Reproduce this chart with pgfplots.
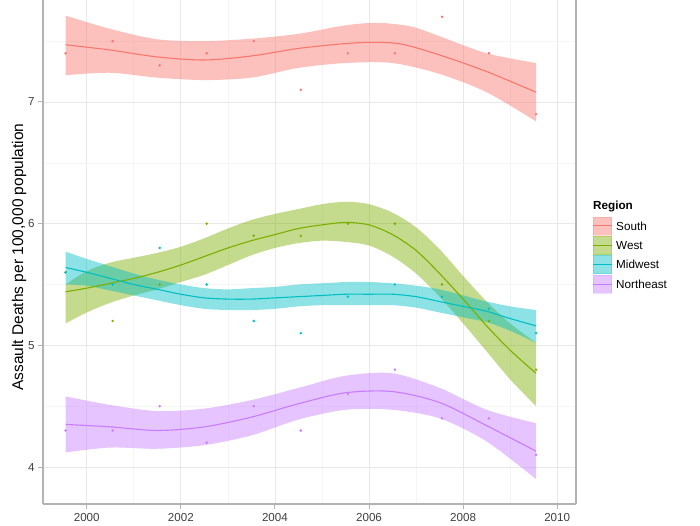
\documentclass[border=0pt]{standalone}
\usepackage{pgfplots}
\pgfplotsset{compat=1.18}
\usepgfplotslibrary{fillbetween}
\usepackage{fontspec}
\setmainfont{Liberation Sans}
\definecolor{cS}{HTML}{F8766D}
\definecolor{cW}{HTML}{7CAE00}
\definecolor{cM}{HTML}{00BFC4}
\definecolor{cN}{HTML}{C77CFF}
\definecolor{tickgrey}{HTML}{3F3F3F}
\definecolor{axgrey}{HTML}{B3B3B3}
\begin{document}
\begin{tikzpicture}
\begin{axis}[
  at={(43pt,21pt)}, anchor=south west, scale only axis,
  width=533pt, height=504pt,
  xmin=1999.07, xmax=2010.4, ymin=3.696, ymax=7.838,
  axis x line*=bottom, axis y line*=box, ytick pos=left,
  axis line style={color=axgrey, line width=1.4pt},
  xtick={2000,2002,...,2010}, ytick={4,5,6,7},
  minor xtick={2001,2003,...,2009}, minor ytick={4.5,5.5,6.5,7.5},
  grid=both,
  major grid style={color=black!9, line width=0.8pt},
  minor grid style={color=black!4, line width=0.6pt},
  tick align=outside, major tick length=5pt, minor tick length=0pt,
  tick style={color=axgrey, line width=1pt},
  /pgf/number format/assume math mode=true,
  /pgf/number format/1000 sep={},
  ticklabel style={font=\fontsize{11.6}{13}\selectfont, color=tickgrey},
  xticklabel style={yshift=-1pt},
  ylabel={Assault Deaths per 100,000 population},
  every axis y label/.style={at={(axis description cs:-0.045,0.490)}, rotate=90, anchor=center, font=\fontsize{15.5}{17}\selectfont},
]
% ---------- South ----------
\addplot[only marks, mark=*, mark size=1.05pt, color=cS] coordinates {
(1999.55,7.4)(2000.55,7.5)(2001.55,7.3)(2002.55,7.4)(2003.55,7.5)(2004.55,7.1)(2005.55,7.4)(2006.55,7.4)(2007.55,7.7)(2008.55,7.4)(2009.55,6.9)};
\addplot[name path=SU, draw=none, smooth, forget plot] coordinates {
(1999.55,7.71)(2000.5,7.60)(2001.5,7.515)(2002.5,7.50)(2003.5,7.52)(2004.5,7.56)(2005.5,7.63)(2006.2,7.65)(2006.9,7.62)(2007.5,7.54)(2008.5,7.40)(2009.55,7.32)};
\addplot[name path=SL, draw=none, smooth, forget plot] coordinates {
(1999.55,7.22)(2000.5,7.24)(2001.5,7.20)(2002.5,7.18)(2003.5,7.20)(2004.5,7.28)(2005.5,7.32)(2006.5,7.32)(2007.5,7.23)(2008.5,7.08)(2009.55,6.84)};
\addplot[fill=cS, fill opacity=0.45, draw=none, forget plot] fill between[of=SU and SL];
\addplot[color=cS, line width=1.1pt, smooth] coordinates {
(1999.55,7.47)(2000.5,7.427)(2001.5,7.37)(2002.5,7.345)(2003.5,7.378)(2004.5,7.44)(2005.5,7.48)(2006.1,7.49)(2006.7,7.475)(2007.5,7.386)(2008.5,7.25)(2009.55,7.08)};
% ---------- West ----------
\addplot[only marks, mark=*, mark size=1.05pt, color=cW] coordinates {
(1999.55,5.6)(2000.55,5.2)(2001.55,5.5)(2002.55,6.0)(2003.55,5.9)(2004.55,5.9)(2005.55,6.0)(2006.55,6.0)(2007.55,5.5)(2008.55,5.2)(2009.55,4.8)};
\addplot[name path=WU, draw=none, smooth, forget plot] coordinates {
(1999.55,5.50)(2000,5.61)(2000.5,5.68)(2001,5.72)(2001.5,5.76)(2002,5.81)(2002.5,5.88)(2003,5.96)(2003.5,6.03)(2004,6.08)(2004.5,6.12)(2005,6.16)(2005.5,6.18)(2006,6.16)(2006.5,6.09)(2007,5.97)(2007.5,5.79)(2008,5.57)(2008.5,5.36)(2009,5.18)(2009.55,5.02)};
\addplot[name path=WL, draw=none, smooth, forget plot] coordinates {
(1999.55,5.18)(2000,5.27)(2000.5,5.35)(2001,5.41)(2001.5,5.46)(2002,5.52)(2002.5,5.58)(2003,5.66)(2003.5,5.74)(2004,5.80)(2004.5,5.84)(2005,5.86)(2005.5,5.85)(2006,5.82)(2006.5,5.73)(2007,5.59)(2007.5,5.40)(2008,5.18)(2008.5,4.95)(2009,4.72)(2009.55,4.50)};
\addplot[fill=cW, fill opacity=0.45, draw=none, forget plot] fill between[of=WU and WL];
\addplot[color=cW, line width=1.1pt, smooth] coordinates {
(1999.55,5.44)(2000,5.47)(2000.5,5.51)(2001,5.55)(2001.5,5.60)(2002,5.66)(2002.5,5.73)(2003,5.80)(2003.5,5.86)(2004,5.91)(2004.5,5.96)(2005,5.99)(2005.5,6.01)(2006,5.99)(2006.5,5.91)(2007,5.78)(2007.5,5.59)(2008,5.38)(2008.5,5.16)(2009,4.96)(2009.55,4.77)};
% ---------- Midwest ----------
\addplot[only marks, mark=*, mark size=1.05pt, color=cM] coordinates {
(1999.55,5.6)(2000.55,5.5)(2001.55,5.8)(2002.55,5.5)(2003.55,5.2)(2004.55,5.1)(2005.55,5.4)(2006.55,5.5)(2007.55,5.4)(2008.55,5.3)(2009.55,5.1)};
\addplot[name path=MU, draw=none, smooth, forget plot] coordinates {
(1999.55,5.77)(2000,5.71)(2000.5,5.65)(2001,5.59)(2001.5,5.54)(2002,5.50)(2002.5,5.47)(2003,5.46)(2003.5,5.47)(2004,5.48)(2004.5,5.50)(2005,5.51)(2005.5,5.52)(2006,5.52)(2006.5,5.51)(2007,5.49)(2007.5,5.46)(2008,5.41)(2008.5,5.36)(2009,5.32)(2009.55,5.29)};
\addplot[name path=ML, draw=none, smooth, forget plot] coordinates {
(1999.55,5.50)(2000,5.49)(2000.5,5.45)(2001,5.41)(2001.5,5.37)(2002,5.33)(2002.5,5.30)(2003,5.29)(2003.5,5.29)(2004,5.30)(2004.5,5.32)(2005,5.33)(2005.5,5.33)(2006,5.33)(2006.5,5.33)(2007,5.31)(2007.5,5.27)(2008,5.23)(2008.5,5.19)(2009,5.12)(2009.55,5.02)};
\addplot[fill=cM, fill opacity=0.45, draw=none, forget plot] fill between[of=MU and ML];
\addplot[color=cM, line width=1.1pt, smooth] coordinates {
(1999.55,5.64)(2000,5.60)(2000.5,5.55)(2001,5.50)(2001.5,5.46)(2002,5.42)(2002.5,5.39)(2003,5.38)(2003.5,5.38)(2004,5.39)(2004.5,5.40)(2005,5.41)(2005.5,5.42)(2006,5.42)(2006.5,5.42)(2007,5.40)(2007.5,5.36)(2008,5.32)(2008.5,5.28)(2009,5.22)(2009.55,5.16)};
% ---------- Northeast ----------
\addplot[only marks, mark=*, mark size=1.05pt, color=cN] coordinates {
(1999.55,4.3)(2000.55,4.3)(2001.55,4.5)(2002.55,4.2)(2003.55,4.5)(2004.55,4.3)(2005.55,4.6)(2006.55,4.8)(2007.55,4.4)(2008.55,4.4)(2009.55,4.1)};
\addplot[name path=NU, draw=none, smooth, forget plot] coordinates {
(1999.55,4.58)(2000.5,4.51)(2001.5,4.46)(2002.5,4.48)(2003.5,4.55)(2004.5,4.65)(2005.5,4.75)(2006.5,4.77)(2007.5,4.65)(2008.5,4.47)(2009.55,4.36)};
\addplot[name path=NL, draw=none, smooth, forget plot] coordinates {
(1999.55,4.12)(2000.5,4.16)(2001.5,4.15)(2002.5,4.18)(2003.5,4.26)(2004.5,4.39)(2005.5,4.47)(2006.5,4.47)(2007.5,4.40)(2008.5,4.21)(2009.55,3.90)};
\addplot[fill=cN, fill opacity=0.45, draw=none, forget plot] fill between[of=NU and NL];
\addplot[color=cN, line width=1.1pt, smooth] coordinates {
(1999.55,4.35)(2000.5,4.33)(2001.5,4.30)(2002.5,4.33)(2003.5,4.41)(2004.5,4.52)(2005.5,4.61)(2006.5,4.62)(2007.5,4.53)(2008.5,4.34)(2009.55,4.13)};
\end{axis}
% ---------- Legend ----------
\node[anchor=west, inner sep=0pt, font=\fontsize{11.7}{13}\selectfont\bfseries] at (593pt,318pt) {Region};
\foreach \c/\t/\y in {cS/South/299, cW/West/279.7, cM/Midwest/260.3, cN/Northeast/241}{
  \fill[\c, fill opacity=0.45] (593pt,\y pt-9.3pt) rectangle (612pt,\y pt+9.3pt);
  \draw[\c, draw opacity=0.25, line width=0.6pt] (593.3pt,\y pt-9pt) rectangle (611.7pt,\y pt+9pt);
  \draw[\c, line width=1pt] (593pt,\y pt) -- (612pt,\y pt);
  \node[anchor=west, inner sep=0pt, font=\fontsize{11.7}{13}\selectfont] at (616pt,\y pt) {\t};
}
\pgfresetboundingbox
\path[use as bounding box] (0pt,0pt) rectangle (700pt,525pt);
\end{tikzpicture}
\end{document}
